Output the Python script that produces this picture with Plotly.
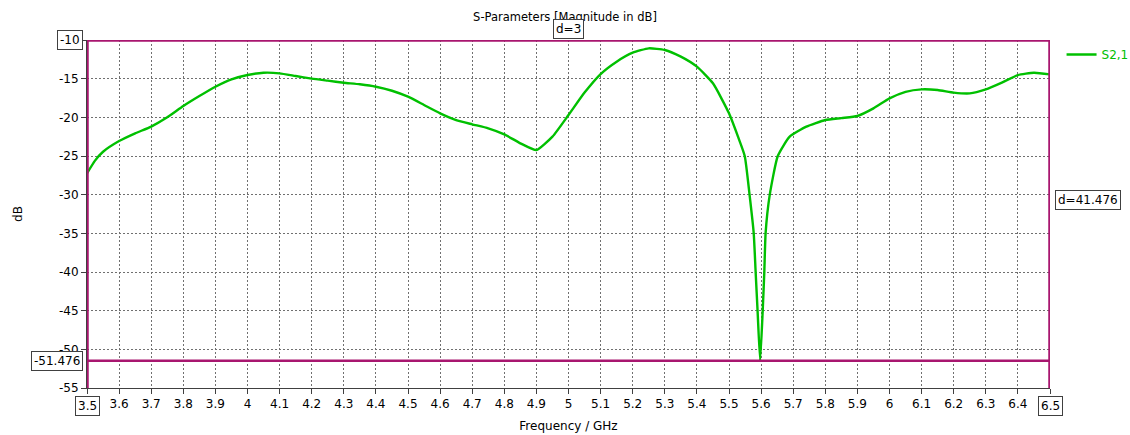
import plotly.graph_objects as go

freq = [3.5, 3.525, 3.55, 3.6, 3.65, 3.7, 3.75, 3.8, 3.85, 3.9, 3.95, 4.0, 4.05, 4.1,
        4.15, 4.2, 4.25, 4.3, 4.35, 4.4, 4.45, 4.5, 4.55, 4.6, 4.65, 4.7, 4.75, 4.8,
        4.85, 4.9, 4.95, 5.0, 5.05, 5.1, 5.15, 5.2, 5.25, 5.3, 5.35, 5.4, 5.45, 5.5,
        5.528, 5.549, 5.564, 5.577, 5.583, 5.589, 5.597, 5.605, 5.610,
        5.614, 5.627, 5.652, 5.689, 5.741, 5.8, 5.85, 5.9, 5.95, 6.0, 6.05, 6.1, 6.15,
        6.2, 6.25, 6.3, 6.35, 6.4, 6.45, 6.5]
s21 = [-27.25, -25.6, -24.45, -23.07, -22.07, -21.2, -20.0, -18.54, -17.25, -16.04,
       -15.09, -14.53, -14.23, -14.31, -14.66, -15.0, -15.26, -15.52, -15.73, -16.04,
       -16.56, -17.33, -18.4, -19.48, -20.35, -20.9, -21.42, -22.2, -23.36, -24.23,
       -22.5, -19.7, -16.8, -14.4, -12.8, -11.64, -11.08, -11.29, -12.15, -13.45,
       -15.6, -19.48, -22.5, -25.0, -30.0, -35.0, -40.0, -45.0, -51.476,
       -45.0, -40.0, -35.0, -30.0, -25.0, -22.5, -21.2, -20.35, -20.1, -19.83,
       -18.84, -17.55, -16.7, -16.38, -16.47, -16.8, -16.9, -16.38, -15.5, -14.53,
       -14.23, -14.44]

x_ticks = [3.5, 3.6, 3.7, 3.8, 3.9, 4.0, 4.1, 4.2, 4.3, 4.4, 4.5, 4.6, 4.7, 4.8, 4.9,
           5.0, 5.1, 5.2, 5.3, 5.4, 5.5, 5.6, 5.7, 5.8, 5.9, 6.0, 6.1, 6.2, 6.3, 6.4, 6.5]
x_labels = ["", "3.6", "3.7", "3.8", "3.9", "4", "4.1", "4.2", "4.3", "4.4", "4.5",
            "4.6", "4.7", "4.8", "4.9", "5", "5.1", "5.2", "5.3", "5.4", "5.5", "5.6",
            "5.7", "5.8", "5.9", "6", "6.1", "6.2", "6.3", "6.4", ""]
y_ticks = [-55, -50, -45, -40, -35, -30, -25, -20, -15, -10]
y_labels = ["-55", "-50", "-45", "-40", "-35", "-30", "-25", "-20", "-15", ""]

marker_x = [3.5, 6.5]
marker_y = [-10, -51.476]

FONT = "DejaVu Sans"
MAG = "#a8166f"
GREEN = "#00c000"

fig = go.Figure()
fig.add_trace(go.Scatter(
    x=freq, y=s21, mode="lines", name="S2,1",
    line=dict(color=GREEN, width=2.4, shape="spline", smoothing=0.5),
))

# marker lines
for mx in marker_x:
    fig.add_shape(type="line", xref="x", yref="y", x0=mx, x1=mx, y0=-55, y1=-10,
                  line=dict(color=MAG, width=3.5), layer="above")
for my in marker_y:
    w = 3.5 if my == -10 else 2.5
    fig.add_shape(type="line", xref="x", yref="y", x0=3.5, x1=6.5, y0=my, y1=my,
                  line=dict(color=MAG, width=w), layer="above")

box = dict(bordercolor="#404040", borderwidth=1, bgcolor="white", borderpad=2,
           showarrow=False, font=dict(family=FONT, size=12, color="black"))

fig.add_annotation(text="-10", xref="paper", x=0, xanchor="right", xshift=-4,
                   yref="y", y=-10, yanchor="middle", **box)
fig.add_annotation(text=f"{marker_y[1]:.3f}", xref="paper", x=0, xanchor="right",
                   xshift=-4, yref="y", y=marker_y[1], yanchor="middle", **box)
for mx in marker_x:
    fig.add_annotation(text=f"{mx:.1f}", xref="x", x=mx, xanchor="center",
                       yref="paper", y=0, yanchor="top", yshift=-8, **box)
fig.add_annotation(text=f"d={marker_x[1]-marker_x[0]:g}", xref="x",
                   x=(marker_x[0] + marker_x[1]) / 2, xanchor="center",
                   yref="paper", y=1, yanchor="bottom", yshift=1, **box)
fig.add_annotation(text=f"d={marker_y[0]-marker_y[1]:.3f}", xref="paper", x=1,
                   xanchor="left", xshift=5, yref="y",
                   y=(marker_y[0] + marker_y[1]) / 2, yanchor="middle", **box)

fig.update_layout(
    width=1130, height=435,
    margin=dict(l=87, r=80, t=40, b=47, autoexpand=False),
    paper_bgcolor="white", plot_bgcolor="white",
    font=dict(family=FONT, size=12, color="black"),
    title=dict(text="S-Parameters [Magnitude in dB]", x=0.5, xanchor="center",
               y=1, yref="container", yanchor="top", pad=dict(t=13),
               font=dict(family=FONT, size=11.5, color="black")),
    showlegend=True,
    legend=dict(x=1.012, xanchor="left", y=1.0, yanchor="top",
                font=dict(family=FONT, size=12, color=GREEN),
                bgcolor="rgba(0,0,0,0)", itemwidth=30),
    xaxis=dict(range=[3.5, 6.5], tickvals=x_ticks, ticktext=x_labels,
               automargin=False,
               showgrid=True, gridcolor="#707070", griddash="2px,2px", gridwidth=1,
               zeroline=False, showline=True, linecolor="#404040", linewidth=1,
               ticks="outside", ticklen=5, tickcolor="#404040",
               title=dict(text="Frequency / GHz", standoff=11,
                          font=dict(family=FONT, size=12)),
               tickfont=dict(family=FONT, size=12)),
    yaxis=dict(range=[-55, -10], tickvals=y_ticks, ticktext=y_labels,
               automargin=False,
               showgrid=True, gridcolor="#707070", griddash="2px,2px", gridwidth=1,
               zeroline=False, showline=True, linecolor="#404040", linewidth=1,
               ticks="outside", ticklen=5, tickcolor="#404040",
               title=dict(text="dB", standoff=33, font=dict(family=FONT, size=12)),
               tickfont=dict(family=FONT, size=12)),
)

fig.write_html("out.html", config={"displayModeBar": False},
               post_script="document.body.style.margin='0';"
                           "document.body.style.overflow='hidden';")
